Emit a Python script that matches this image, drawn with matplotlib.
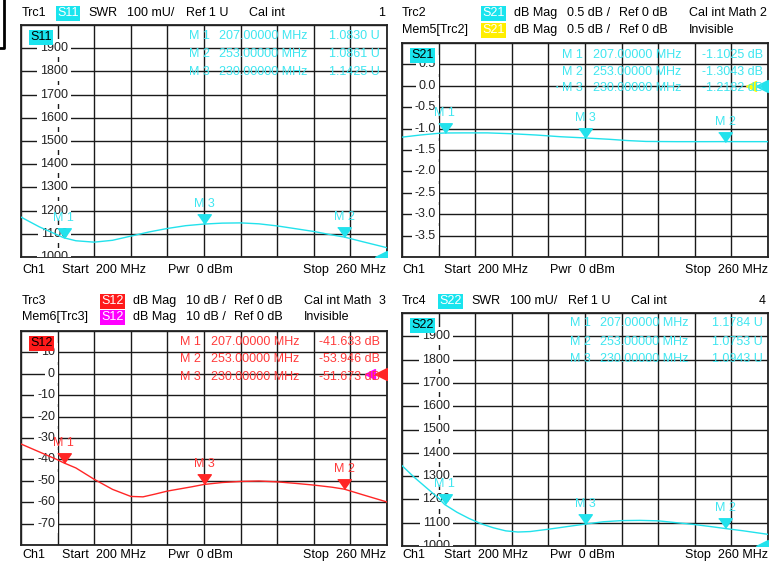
import numpy as np
import matplotlib.pyplot as plt
from matplotlib.lines import Line2D
from matplotlib.transforms import offset_copy

plt.rcParams['font.family'] = ['Liberation Sans', 'DejaVu Sans']
plt.rcParams['font.size'] = 9

W, H = 776, 567

# Sweep / markers
f_start, f_stop = 200, 260
mk_names = ['M 1', 'M 2', 'M 3']
mk_freq = [207, 253, 230]

# Trc1 S11 SWR (mU)
f11 = [200, 203, 206, 207, 209, 212, 215, 218, 221, 224, 227, 230, 233, 236,
       239, 242, 245, 248, 251, 253, 256, 260]
s11 = [1172, 1130, 1095, 1083, 1070, 1064, 1072, 1090, 1108, 1123, 1135, 1142,
       1146, 1147, 1143, 1134, 1122, 1110, 1095, 1086, 1066, 1040]
s11_mk = [1.0830, 1.0861, 1.1425]

# Trc2 S21 dB Mag
f21 = [200, 203, 206, 207, 210, 214, 218, 222, 226, 230, 234, 237, 240, 245,
       250, 253, 256, 260]
s21 = [-1.20, -1.15, -1.11, -1.1025, -1.10, -1.10, -1.12, -1.15, -1.19, -1.218,
       -1.25, -1.28, -1.30, -1.305, -1.305, -1.304, -1.305, -1.305]
s21_mk = [-1.1025, -1.3043, -1.2182]

# Trc3 S12 dB Mag
f12 = [200, 203, 206, 207, 209, 212, 215, 218, 220, 222, 224, 226, 228, 230,
       233, 236, 239, 242, 245, 248, 251, 253, 256, 260]
s12 = [-32.8, -36.5, -40.2, -41.6, -44.0, -49.3, -54.0, -57.3, -57.5, -56.2,
       -54.8, -53.8, -52.8, -51.7, -50.8, -50.3, -50.1, -50.5, -51.2, -52.0,
       -53.0, -53.9, -56.5, -59.9]
s12_mk = [-41.633, -53.946, -51.673]

# Trc4 S22 SWR (mU)
f22 = [200, 202, 204, 206, 207, 209, 211, 213, 215, 217, 219, 221, 224, 227,
       230, 233, 236, 239, 242, 245, 248, 251, 253, 256, 260]
s22 = [1345, 1295, 1250, 1205, 1178, 1145, 1118, 1095, 1078, 1065, 1060, 1062,
       1072, 1083, 1094, 1104, 1109, 1110, 1108, 1100, 1092, 1082, 1075, 1065, 1050]
s22_mk = [1.1784, 1.0753, 1.0943]

CY = '#22e2ec'   # cyan trace
CYT = '#3fe6f0'  # cyan marker text
RD = '#ff2626'
RDT = '#ff3a3a'

fig = plt.figure(figsize=(W / 100, H / 100), dpi=100)
fig.patch.set_facecolor('white')


def fx(x):
    return x / W


def fy(y):
    return 1 - y / H


def ftext(x, y, s, ha='left', **kw):
    fig.text(fx(x), fy(y), s, ha=ha, va='center', **kw)


def badge(x, y, s, bg, fg='white'):
    fig.text(fx(x), fy(y), s, ha='left', va='center', color=fg,
             bbox=dict(boxstyle='square,pad=0.12', fc=bg, ec='none'))


def panel(box, ylim, ylabels, yfmt, lab_right, freq, vals, mk_vals, color,
          tcolor, name, name_bg, table, refval, memcolor=None):
    x0, y0, x1, y1 = box
    ax = fig.add_axes([fx(x0), fy(y1), (x1 - x0) / W, (y1 - y0) / H])
    ax.set_xlim(f_start, f_stop)
    ax.set_ylim(*ylim)
    ax.set_xticks(np.linspace(f_start, f_stop, 11))
    ax.set_yticks(np.linspace(ylim[0], ylim[1], 11))
    ax.tick_params(length=0, labelbottom=False, labelleft=False)
    ax.grid(True, color='#1a1a1a', lw=1.0)
    for sp in ax.spines.values():
        sp.set_color('#222222')
        sp.set_linewidth(1.3)
    tr = ax.get_yaxis_transform()
    lx = (lab_right - x0) / (x1 - x0)
    for v in ylabels:
        ax.text(lx, v, yfmt % v, transform=tr, ha='right', va='center',
                color='#222222', zorder=3, clip_on=True,
                bbox=dict(boxstyle='square,pad=0.25', fc='white', ec='none'))
    ax.plot(freq, vals, color=color, lw=1.0, zorder=4, clip_on=True)
    # marker triangles (tip on trace)
    tri = [(-0.7, 1), (0.7, 1), (0, 0)]
    for n, f, v in zip(mk_names, mk_freq, mk_vals):
        ax.plot([f], [v], marker=tri, ms=14, color=color, mec=color, zorder=5)
        ax.annotate(n, (f, v), xytext=(0, 14), textcoords='offset pixels',
                    ha='center', va='bottom', color=tcolor, zorder=5)
    # reference level arrows on the right edge
    off = offset_copy(ax.transData, fig=fig, x=-6, y=0, units='dots')
    ax.plot([f_stop], [refval], marker='<', ms=9, color=color, mec=color,
            transform=off, zorder=6, clip_on=True)
    if memcolor:
        off2 = offset_copy(ax.transData, fig=fig, x=-17, y=0, units='dots')
        ax.plot([f_stop], [refval], marker='<', ms=6.5, color=memcolor,
                mec=memcolor, transform=off2, zorder=5, clip_on=True)
    # trace name badge inside plot
    ax.text((x0 + 9 - x0) / (x1 - x0), 1 - 12 / (y1 - y0), name,
            transform=ax.transAxes, ha='left', va='center', color='black',
            zorder=7, bbox=dict(boxstyle='square,pad=0.12', fc=name_bg, ec='none'))
    # marker table
    rows, xm, xf, xv = table
    for i in range(3):
        yy = 1 - (rows[i] - y0) / (y1 - y0)
        ax.text((xm - x0) / (x1 - x0), yy, mk_names[i], transform=ax.transAxes,
                ha='left', va='center', color=tcolor, zorder=6)
        ax.text((xf - x0) / (x1 - x0), yy, '%.5f MHz' % mk_freq[i],
                transform=ax.transAxes, ha='left', va='center', color=tcolor, zorder=6)
        ax.text((xv - x0) / (x1 - x0), yy, table_fmt[name] % mk_vals_tab[name][i],
                transform=ax.transAxes, ha='right', va='center', color=tcolor, zorder=6)
    return ax


table_fmt = {'S11': '%.4f U', 'S22': '%.4f U', 'S21': '%.4f dB', 'S12': '%.3f dB'}
mk_vals_tab = {'S11': s11_mk, 'S22': s22_mk, 'S21': s21_mk, 'S12': s12_mk}

swr_labels = [1000, 1100, 1200, 1300, 1400, 1500, 1600, 1700, 1800, 1900]
db21_labels = [0.5, 0.0, -0.5, -1.0, -1.5, -2.0, -2.5, -3.0, -3.5]
db12_labels = [10, 0, -10, -20, -30, -40, -50, -60, -70]

# ---- Trc1 ----
panel((21, 25, 387, 257), (1000, 2000), swr_labels, '%d', 68, f11, s11,
      [v * 1000 for v in s11_mk], CY, CYT, 'S11', '#19e4ee',
      ([36, 54, 72], 189, 219, 380), 1000)
ftext(22, 13, 'Trc1')
badge(57, 13, 'S11', '#19e4ee')
ftext(88, 13, 'SWR')
ftext(127, 13, '100 mU/')
ftext(186, 13, 'Ref 1 U')
ftext(249, 13, 'Cal int')
ftext(385, 13, '1', ha='right')

# ---- Trc2 ----
panel((402, 43, 768, 257), (-4, 1), db21_labels, '%.1f', 436, f21, s21,
      s21_mk, CY, CYT, 'S21', '#19e4ee',
      ([55, 72, 88], 562, 593, 763), 0, memcolor='#ffff00')
fig.text(fx(556), fy(88), '\u2022', ha='left', va='center', color=CYT, fontsize=5)
for yy, first, bg, last in [(13, 'Trc2', '#19e4ee', 'Cal int Math 2'),
                            (30, 'Mem5[Trc2]', '#ffee00', 'Invisible')]:
    ftext(402, yy, first)
    badge(482, yy, 'S21', bg)
    ftext(514, yy, 'dB Mag')
    ftext(567, yy, '0.5 dB /')
    ftext(619, yy, 'Ref 0 dB')
    ftext(689, yy, last)

# ---- Trc3 ----
panel((21, 331, 387, 545), (-80, 20), db12_labels, '%d', 55, f12, s12,
      s12_mk, RD, RDT, 'S12', '#ff1a1a',
      ([342, 359, 377], 180, 211, 380), 0, memcolor='#ff00ff')
for yy, first, bg, last in [(301, 'Trc3', '#ff1a1a', 'Cal int Math'),
                            (317, 'Mem6[Trc3]', '#ff00ff', 'Invisible')]:
    ftext(22, yy, first)
    badge(101, yy, 'S12', bg)
    ftext(133, yy, 'dB Mag')
    ftext(186, yy, '10 dB /')
    ftext(234, yy, 'Ref 0 dB')
    ftext(304, yy, last)
ftext(385, 301, '3', ha='right')

# ---- Trc4 ----
panel((402, 313, 768, 546), (1000, 2000), swr_labels, '%d', 450, f22, s22,
      [v * 1000 for v in s22_mk], CY, CYT, 'S22', '#19e4ee',
      ([323, 342, 359], 570, 600, 763), 1000)
ftext(402, 301, 'Trc4')
badge(439, 301, 'S22', '#19e4ee')
ftext(471, 301, 'SWR')
ftext(510, 301, '100 mU/')
ftext(568, 301, 'Ref 1 U')
ftext(631, 301, 'Cal int')
ftext(766, 301, '4', ha='right')

# ---- footers ----
for yy in (270, 555):
    ftext(22, yy, 'Ch1')
    ftext(62, yy, 'Start  200 MHz')
    ftext(168, yy, 'Pwr  0 dBm')
    ftext(386, yy, 'Stop  260 MHz', ha='right')
    ftext(402, yy, 'Ch1')
    ftext(444, yy, 'Start  200 MHz')
    ftext(550, yy, 'Pwr  0 dBm')
    ftext(768, yy, 'Stop  260 MHz', ha='right')

# bit of window frame at the top left
fig.add_artist(Line2D([fx(4), fx(4), fx(0)], [fy(0), fy(48), fy(48)],
                      color='black', lw=2))

fig.savefig('out.png', dpi=100, facecolor='white')
